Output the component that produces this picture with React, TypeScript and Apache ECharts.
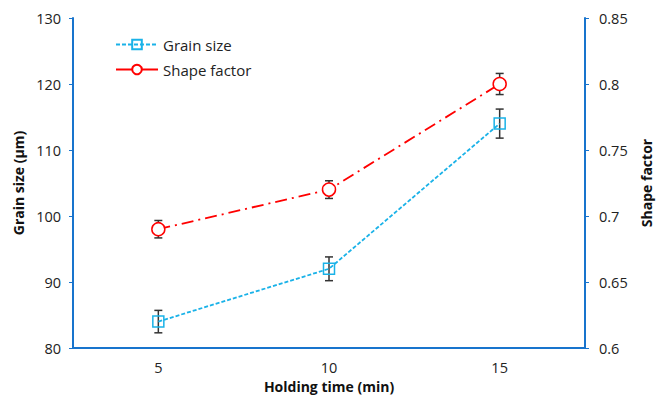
import React, { useEffect, useRef } from "react";
import * as echarts from "echarts";

const categories = ["5", "10", "15"];
const grainSize = [84, 92, 114];
const grainErr = [1.7, 1.8, 2.2];
const shapeFactor = [0.69, 0.72, 0.8];
const shapeErr = [0.0066, 0.0067, 0.008];

const FONT = "'Open Sans', sans-serif";
const AXIS_BLUE = "#1874CD";

function errorSeries(values: number[], errs: number[], yAxisIndex: number) {
  return {
    type: "custom",
    yAxisIndex,
    z: 1,
    silent: true,
    encode: { x: 0, y: [1, 2] },
    data: values.map((v, i) => [i, v - errs[i], v + errs[i]]),
    renderItem: (params: any, api: any) => {
      const lo = api.coord([api.value(0), api.value(1)]);
      const hi = api.coord([api.value(0), api.value(2)]);
      const hw = 4;
      const style = { stroke: "#333", lineWidth: 1.5 };
      return {
        type: "group",
        children: [
          { type: "line", shape: { x1: lo[0], y1: lo[1], x2: hi[0], y2: hi[1] }, style },
          { type: "line", shape: { x1: lo[0] - hw, y1: lo[1], x2: lo[0] + hw, y2: lo[1] }, style },
          { type: "line", shape: { x1: hi[0] - hw, y1: hi[1], x2: hi[0] + hw, y2: hi[1] }, style },
        ],
      };
    },
  };
}

export default function App() {
  const ref = useRef<HTMLDivElement>(null);
  useEffect(() => {
    const chart = echarts.init(ref.current!, null, { renderer: "svg" });
    const axisLabel = { color: "#222", fontSize: 14.5, fontFamily: FONT };
    const nameStyle = { color: "#111", fontSize: 14, fontWeight: "bold", fontFamily: FONT };
    chart.setOption({
      animation: false,
      backgroundColor: "#fff",
      grid: { left: 73, right: 81, top: 18, bottom: 55 },
      legend: {
        orient: "vertical",
        left: 115,
        top: 37,
        padding: 0,
        itemWidth: 42,
        itemHeight: 12,
        itemGap: 10,
        textStyle: { color: "#222", fontSize: 15, fontFamily: FONT },
        data: [
          { name: "Grain size" },
          { name: "Shape factor", lineStyle: { type: "solid" } },
        ],
      },
      xAxis: {
        type: "category",
        data: categories,
        boundaryGap: true,
        name: "Holding time (min)",
        nameLocation: "middle",
        nameGap: 31,
        nameTextStyle: nameStyle,
        axisLine: { lineStyle: { color: AXIS_BLUE, width: 2 } },
        axisTick: { alignWithLabel: true, length: 4, lineStyle: { color: AXIS_BLUE, width: 1 } },
        axisLabel: { ...axisLabel, margin: 12 },
        splitLine: { show: false },
      },
      yAxis: [
        {
          type: "value",
          min: 80,
          max: 130,
          interval: 10,
          name: "Grain size (µm)",
          nameLocation: "middle",
          nameGap: 45,
          nameRotate: 90,
          nameTextStyle: nameStyle,
          axisLine: { show: true, lineStyle: { color: AXIS_BLUE, width: 2 } },
          axisTick: { show: true, length: 4, lineStyle: { color: AXIS_BLUE, width: 1 } },
          axisLabel: { ...axisLabel, margin: 12 },
          splitLine: { show: false },
        },
        {
          type: "value",
          position: "right",
          min: 0.6,
          max: 0.85,
          interval: 0.05,
          name: "Shape factor",
          nameLocation: "middle",
          nameGap: 54,
          nameRotate: 90,
          nameTextStyle: nameStyle,
          axisLine: { show: true, lineStyle: { color: AXIS_BLUE, width: 2 } },
          axisTick: { show: true, length: 4, lineStyle: { color: AXIS_BLUE, width: 1 } },
          axisLabel: { ...axisLabel, margin: 14, formatter: (v: number) => String(parseFloat(v.toFixed(2))) },
          splitLine: { show: false },
        },
      ],
      series: [
        errorSeries(grainSize, grainErr, 0),
        errorSeries(shapeFactor, shapeErr, 1),
        {
          name: "Grain size",
          type: "line",
          yAxisIndex: 0,
          z: 3,
          data: grainSize,
          symbol: "rect",
          symbolSize: 11,
          color: "#1AB2E8",
          lineStyle: { color: "#1AB2E8", width: 1.8, type: [4, 2] },
          itemStyle: { color: "transparent", borderColor: "#1AB2E8", borderWidth: 1.5 },
        },
        {
          name: "Shape factor",
          type: "line",
          yAxisIndex: 1,
          z: 3,
          data: shapeFactor,
          symbol: "circle",
          symbolSize: 13,
          color: "#FF0000",
          lineStyle: { color: "#FF0000", width: 1.8, type: [12, 5, 2, 5] },
          itemStyle: { color: "#fff", borderColor: "#FF0000", borderWidth: 1.5 },
        },
      ],
    });
    return () => chart.dispose();
  }, []);
  return (
    <div
      ref={ref}
      style={{ position: "absolute", left: 0, top: 0, width: 666, height: 403 }}
    />
  );
}
